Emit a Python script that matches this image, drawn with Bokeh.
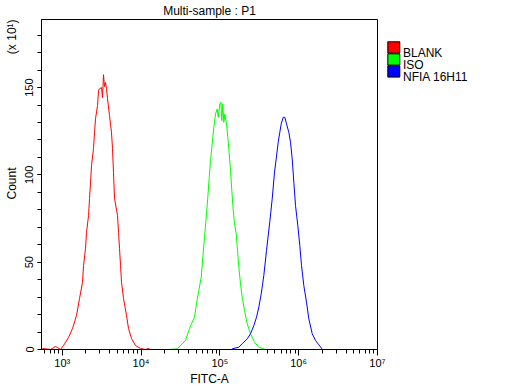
from bokeh.plotting import figure
from bokeh.layouts import row
from bokeh.models import FixedTicker, Range1d
from bokeh.core.properties import value
from bokeh.embed import file_html
from bokeh.resources import INLINE

# ---- data ----
blank_fitc = [562, 711, 822, 872, 951, 1039, 1202, 1351, 1518, 1658, 1810, 1864, 1975, 2033,
              2157, 2220, 2286, 2354, 2496, 2570, 2647, 2806, 2889, 2974, 3153, 3246, 3342,
              3441, 3543, 3648, 3756, 3982, 4222, 4347, 4476, 4609, 5033, 5183, 5337, 5495,
              5658, 5998, 6546, 6941, 7576, 8515, 9856, 11406, 12450, 13200]
blank_count = [0.6, 0, 1.7, 1.1, 0, 2.3, 6.9, 12.0, 19.5, 29.2, 38.4, 48.1, 57.8, 67.0,
               76.7, 86.5, 95.6, 105.4, 115.1, 124.2, 132.3, 139.7, 148.3, 149.4, 150.0, 144.3, 157.4,
               150.6, 152.9, 149.4, 143.7, 134.0, 124.2, 115.1, 101.3, 86.5, 76.7, 67.0, 57.8, 48.1,
               38.4, 29.2, 19.5, 12.0, 6.3, 2.3, 0.6, 0, 0.6, 0]

iso_fitc = [22340, 28770, 33340, 36730, 40430, 43740, 47750, 50600, 54140, 58070, 60840, 63940,
            67200, 70430, 73370, 76200, 80100, 83950, 88200, 92700, 95500, 100000, 103000,
            106000, 109100, 112400, 115700, 121600, 126300, 131600, 136700, 142000, 148000,
            153700, 161400, 167700, 174200, 183100, 192400, 205900, 222700, 245300, 275500,
            312500, 361700, 380000]
iso_count = [0, 0.4, 3.3, 5.2, 10.9, 14.9, 18.5, 26.3, 33.8, 41.4, 52.8, 64.3,
             75.7, 87.2, 98.6, 108.2, 117.8, 127.3, 134.9, 137.8, 133.0, 140.7, 141.6,
             131.1, 140.7, 130.1, 134.9, 129.2, 121.5, 112.0, 102.5, 91.1, 79.5,
             72.0, 66.2, 56.7, 47.1, 37.6, 29.9, 22.3, 14.7, 9.0, 4.2,
             1.3, 0.4, 0]

nfia_fitc = [143600, 174200, 192400, 222700, 245300, 270000, 292300, 312600, 335300, 361700,
             391500, 431000, 462200, 494300, 519600, 550800, 577300, 601300, 637700, 668300,
             702300, 750900, 789000, 829200, 868900, 913400, 977000, 1035600, 1088500, 1164000,
             1259000, 1347000, 1488000, 1639000, 1804000, 1953000, 2010000]
nfia_count = [0.4, 1.3, 3.3, 6.1, 9.0, 13.7, 18.5, 24.2, 31.9, 42.4,
              56.7, 73.3, 86.3, 101.5, 109.2, 118.7, 124.4, 129.2, 133.0, 133.0,
              129.2, 124.4, 118.7, 109.2, 95.8, 82.4, 71.0, 59.5, 48.1, 36.6,
              27.1, 17.6, 9.0, 5.2, 2.7, 0.7, 0]

series_names = ["BLANK", "ISO", "NFIA 16H11"]
series_colors = ["#ff0000", "#00ff00", "#0000ff"]

x_ticks = [1e3, 1e4, 1e5, 1e6, 1e7]
x_tick_labels = ["10³", "10⁴", "10⁵", "10⁶", "10⁷"]
x_minor = [m * 10 ** k for k in range(2, 7) for m in range(2, 10) if m * 10 ** k >= 560]
y_ticks = [0, 50, 100, 150]
y_tick_labels = ["0", "50", "100", "150"]
y_minor = list(range(10, 190, 10))

title_text = "Multi-sample : P1"
x_label = "FITC-A"
y_label = "Count"
y_scale_label = "(x 10¹)"

FONT = "Liberation Sans"
H = 388
MAIN_W = 386
LEG_W = 514 - MAIN_W
NBSP = "\u00a0"

# ---- main plot ----
p = figure(width=MAIN_W, height=H, x_axis_type="log",
           x_range=(10 ** 2.737, 10 ** 7.001), y_range=(0, 189),
           output_backend="svg", toolbar_location=None,
           min_border_left=41, min_border_right=MAIN_W - 377,
           min_border_top=19, min_border_bottom=39)
p.background_fill_color = "white"
p.border_fill_color = "white"
p.outline_line_color = "black"
p.outline_line_width = 1
p.xgrid.visible = False
p.ygrid.visible = False

p.title.text = title_text
p.title.align = "center"
p.title.text_font = FONT
p.title.text_font_size = "12px"
p.title.text_font_style = "normal"
p.title.text_color = "black"
p.title.standoff = 3

xs = [blank_fitc, iso_fitc, nfia_fitc]
ys = [blank_count, iso_count, nfia_count]
for x, y, c in zip(xs, ys, series_colors):
    p.line(x, y, line_color=c, line_width=1)

# axes
xa = p.xaxis[0]
xa.ticker = FixedTicker(ticks=x_ticks, minor_ticks=x_minor)
xa.major_label_overrides = dict(zip(x_ticks, x_tick_labels))
xa.major_tick_in = 0
xa.major_tick_out = 6
xa.minor_tick_in = 0
xa.minor_tick_out = 4
xa.major_label_standoff = 1
xa.major_label_text_font = FONT
xa.major_label_text_font_size = "11px"
xa.major_label_text_color = "black"
xa.axis_label = x_label
xa.axis_label_standoff = 0
xa.axis_label_text_font = FONT
xa.axis_label_text_font_size = "12px"
xa.axis_label_text_font_style = "normal"
xa.axis_label_text_color = "black"
xa.axis_line_color = "black"
xa.major_tick_line_color = "black"
xa.minor_tick_line_color = "black"

ya = p.yaxis[0]
ya.ticker = FixedTicker(ticks=y_ticks, minor_ticks=y_minor)
ya.major_label_overrides = dict(zip(y_ticks, y_tick_labels))
ya.major_label_orientation = "vertical"
ya.major_tick_in = 0
ya.major_tick_out = 4
ya.minor_tick_in = 0
ya.minor_tick_out = 4
ya.major_label_standoff = 4
ya.major_label_text_font = FONT
ya.major_label_text_font_size = "11px"
ya.major_label_text_color = "black"
# "Count" sits mid-height, the scale factor near the top, in one rotated label
ya.axis_label = NBSP * 45 + y_label + NBSP * 34 + y_scale_label
ya.axis_label_standoff = 4
ya.axis_label_text_font = FONT
ya.axis_label_text_font_size = "12px"
ya.axis_label_text_font_style = "normal"
ya.axis_label_text_color = "black"
ya.axis_line_color = "black"
ya.major_tick_line_color = "black"
ya.minor_tick_line_color = "black"

# ---- right strip with the legend (coordinates: pixels, y measured from the bottom) ----
pr = figure(width=LEG_W, height=H, x_range=Range1d(0, LEG_W), y_range=Range1d(39, H - 19),
            output_backend="svg", toolbar_location=None,
            min_border_left=0, min_border_right=0, min_border_top=19, min_border_bottom=39,
            x_axis_location=None, y_axis_location=None)
pr.outline_line_color = None
pr.xgrid.visible = False
pr.ygrid.visible = False
pr.border_fill_color = "white"
n = len(series_names)
x0 = 387.3 - MAIN_W
row_tops = [H - (41.3 + 12 * i) for i in range(n)]
row_bottoms = [t - 11.3 for t in row_tops]
pr.quad(left=[x0] * n, right=[x0 + 12] * n, top=row_tops, bottom=row_bottoms,
        fill_color=series_colors, line_color="black", line_width=1)
pr.text(x=[x0 + 15.2] * n, y=row_bottoms, text=series_names, text_align="left",
        text_baseline="alphabetic", text_font=value(FONT), text_font_size=value("12px"),
        text_color="black")

layout = row(p, pr, spacing=0)
open("out.html", "w").write(file_html(layout, INLINE))
